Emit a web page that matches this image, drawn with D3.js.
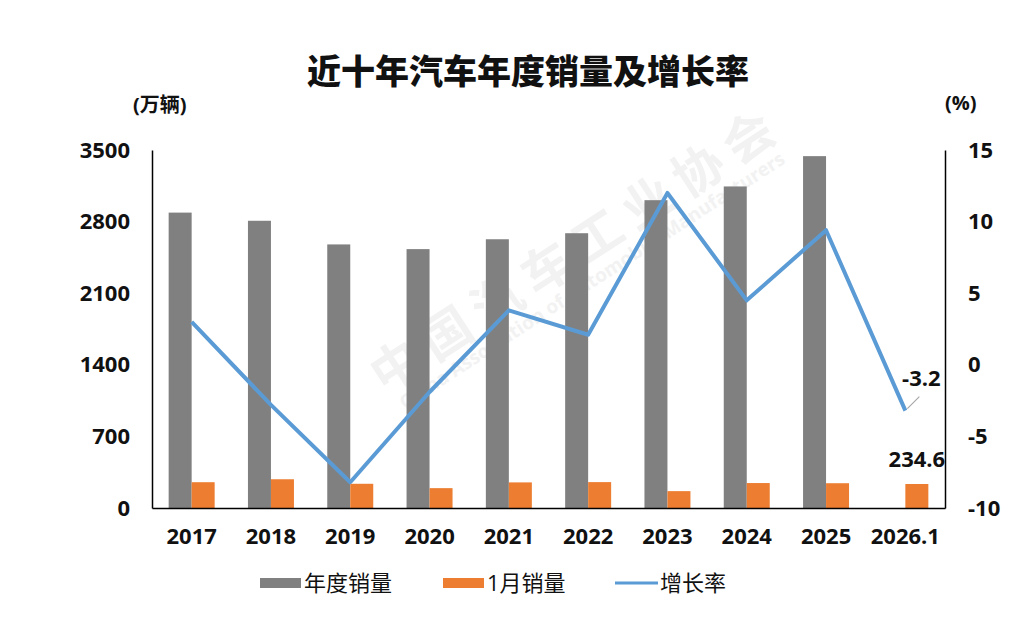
<!DOCTYPE html>
<html>
<head>
<meta charset="utf-8">
<script src="https://cdn.jsdelivr.net/npm/d3@7"></script>
<style>
  body { margin: 0; background: #fff; }
  text { font-family: "Open Sans", "Noto Sans CJK SC", sans-serif; }
</style>
</head>
<body>
<script>
// data
var years = ['2017', '2018', '2019', '2020', '2021', '2022', '2023', '2024', '2025', '2026.1'];
var annualSales = [2887.9, 2808.1, 2576.9, 2531.1, 2627.5, 2686.4, 3009.4, 3143.6, 3440.0, null];
var janSales = [252.2, 281.0, 236.7, 194.1, 250.3, 253.1, 164.9, 243.9, 242.3, 234.6];
var growth = [3.0, -2.8, -8.2, -1.9, 3.8, 2.1, 12.0, 4.5, 9.4, -3.2];
var leftTicks = [0, 700, 1400, 2100, 2800, 3500];
var rightTicks = [-10, -5, 0, 5, 10, 15];

var W = 1018, H = 618;
var m = { left: 152, right: 945, top: 150, bottom: 508 };

var svg = d3.select('body').append('svg')
    .attr('width', W)
    .attr('height', H);

// faint watermark
var wm = svg.append('g').attr('fill', '#f2f2f2');
wm.append('text')
  .attr('transform', 'translate(385,395) rotate(-33)')
  .attr('font-size', 50)
  .attr('font-weight', 700)
  .attr('letter-spacing', 10)
  .text('中国汽车工业协会');
wm.append('text')
  .attr('transform', 'translate(405,410) rotate(-33)')
  .attr('font-size', 19)
  .attr('font-weight', 700)
  .text('China Association of Automobile Manufacturers');

var x = d3.scaleBand()
    .domain(years)
    .range([m.left, m.right]);

var yL = d3.scaleLinear().domain([0, 3500]).range([m.bottom, m.top]);
var yR = d3.scaleLinear().domain([-10, 15]).range([m.bottom, m.top]);

var barW = x.bandwidth() * 0.29;

// annual bars
svg.selectAll('rect.annual')
  .data(years.filter((d, i) => annualSales[i] != null))
  .enter().append('rect')
    .attr('class', 'annual')
    .attr('x', d => x(d) + x.bandwidth() / 2 - barW)
    .attr('y', d => yL(annualSales[years.indexOf(d)]))
    .attr('width', barW)
    .attr('height', d => yL(0) - yL(annualSales[years.indexOf(d)]))
    .attr('fill', '#808080');

// january bars
svg.selectAll('rect.jan')
  .data(years)
  .enter().append('rect')
    .attr('class', 'jan')
    .attr('x', d => x(d) + x.bandwidth() / 2)
    .attr('y', (d, i) => yL(janSales[i]))
    .attr('width', barW)
    .attr('height', (d, i) => yL(0) - yL(janSales[i]))
    .attr('fill', '#ed7d31');

// growth line
var line = d3.line()
    .x((d, i) => x(years[i]) + x.bandwidth() / 2)
    .y(d => yR(d));

svg.append('path')
  .datum(growth)
  .attr('d', line)
  .attr('fill', 'none')
  .attr('stroke', '#5b9bd5')
  .attr('stroke-width', 4)
  .attr('stroke-linejoin', 'round');

// axes
var plain = d => String(d);
var axL = svg.append('g')
  .attr('transform', 'translate(' + m.left + ',0)')
  .call(d3.axisLeft(yL).tickValues(leftTicks).tickFormat(plain).tickSize(0).tickPadding(22));
var axR = svg.append('g')
  .attr('transform', 'translate(' + m.right + ',0)')
  .call(d3.axisRight(yR).tickValues(rightTicks).tickFormat(plain).tickSize(0).tickPadding(23));
var axB = svg.append('g')
  .attr('transform', 'translate(0,' + m.bottom + ')')
  .call(d3.axisBottom(x).tickSize(0).tickPadding(20));

[axL, axR, axB].forEach(function (g) {
  g.select('.domain').attr('stroke', '#000').attr('stroke-width', 1.5);
  g.selectAll('text')
    .attr('font-size', 22)
    .attr('font-weight', 700)
    .attr('fill', '#111');
});

// data labels on last point
var last = years.length - 1;
var lx = x(years[last]) + x.bandwidth() / 2;
svg.append('line')
  .attr('x1', lx + 2).attr('y1', yR(growth[last]) - 2)
  .attr('x2', lx + 14).attr('y2', yR(growth[last]) - 14)
  .attr('stroke', '#a6a6a6').attr('stroke-width', 1.2);
svg.append('text')
  .attr('x', lx + 16).attr('y', yR(growth[last]) - 25)
  .attr('text-anchor', 'middle')
  .attr('font-size', 22).attr('font-weight', 700).attr('fill', '#111')
  .text(String(growth[last].toFixed(1)));
svg.append('text')
  .attr('x', lx + barW / 2).attr('y', yL(janSales[last]) - 17)
  .attr('text-anchor', 'middle')
  .attr('font-size', 22).attr('font-weight', 700).attr('fill', '#111')
  .text(janSales[last].toFixed(1));

// title and unit labels
svg.append('text')
  .attr('x', 528).attr('y', 84)
  .attr('text-anchor', 'middle')
  .attr('font-size', 34).attr('font-weight', 900).attr('fill', '#111')
  .text('近十年汽车年度销量及增长率');
svg.append('text')
  .attr('x', 133).attr('y', 112)
  .attr('font-size', 20).attr('font-weight', 700).attr('fill', '#111')
  .text('(万辆)');
svg.append('text')
  .attr('x', 945).attr('y', 110)
  .attr('font-size', 20).attr('font-weight', 700).attr('fill', '#111')
  .text('(%)');

// legend
var legendItems = [
  { name: '年度销量', color: '#808080', x: 260, kind: 'rect' },
  { name: '1月销量', color: '#ed7d31', x: 443, kind: 'rect' },
  { name: '增长率', color: '#5b9bd5', x: 615, kind: 'line' }
];
var lg = svg.selectAll('g.legend')
  .data(legendItems)
  .enter().append('g')
    .attr('class', 'legend')
    .attr('transform', d => 'translate(' + d.x + ',583)');
lg.filter(d => d.kind === 'rect').append('rect')
  .attr('x', 0).attr('y', -5).attr('width', 41).attr('height', 10)
  .attr('fill', d => d.color);
lg.filter(d => d.kind === 'line').append('line')
  .attr('x1', 0).attr('x2', 43).attr('y1', 0).attr('y2', 0)
  .attr('stroke', d => d.color).attr('stroke-width', 3);
lg.append('text')
  .attr('x', d => d.kind === 'line' ? 45 : 44)
  .attr('y', 8)
  .attr('font-size', 22).attr('fill', '#111')
  .text(d => d.name);
</script>
</body>
</html>
